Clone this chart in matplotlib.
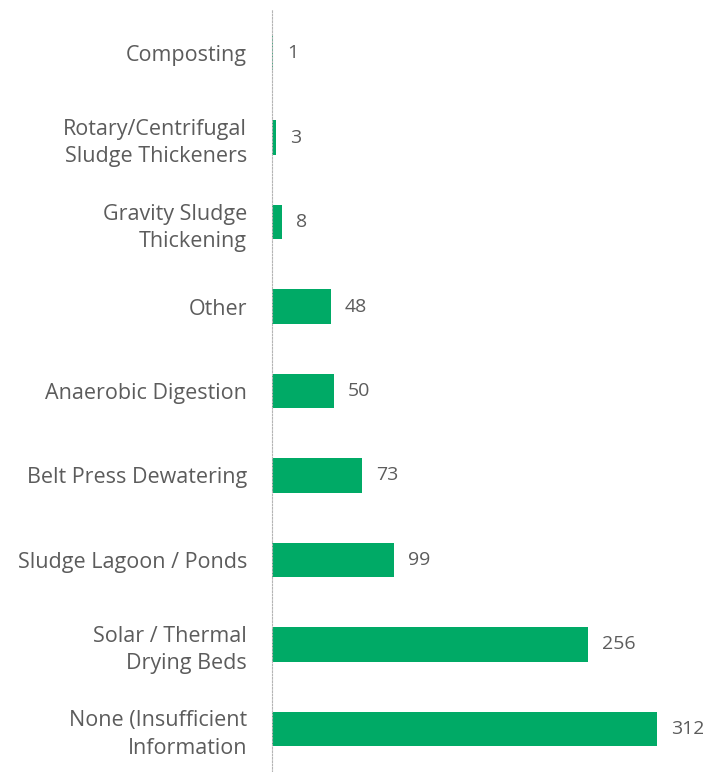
import numpy as np
import matplotlib
matplotlib.use("Agg")
import matplotlib.pyplot as plt

# sludge treatment methods, top to bottom as listed
methods = [
    "Composting",
    "Rotary/Centrifugal\nSludge Thickeners",
    "Gravity Sludge\nThickening",
    "Other",
    "Anaerobic Digestion",
    "Belt Press Dewatering",
    "Sludge Lagoon / Ponds",
    "Solar / Thermal\nDrying Beds",
    "None (Insufficient\nInformation",
]
counts = [1, 3, 8, 48, 50, 73, 99, 256, 312]

bar_color = "#00aa66"
text_color = "#5c5c5c"

plt.rcParams["font.family"] = ["Open Sans", "DejaVu Sans"]

fig = plt.figure(figsize=(7.03, 7.72), dpi=100)
ax = fig.add_axes([272 / 703, 0, 431 / 703, 762 / 772])

y = np.arange(len(methods))[::-1]
bars = ax.barh(y, counts, height=0.41, color=bar_color)

ax.set_xlim(0, 349.3)
ax.set_ylim(-0.51, len(methods) - 0.49)

ax.set_yticks(y)
ax.set_yticklabels(methods, fontsize=15.5, color=text_color, linespacing=1.4,
                   ha="right")
ax.tick_params(axis="y", length=0, pad=18)
ax.set_xticks([])

for s in ["top", "right", "bottom"]:
    ax.spines[s].set_visible(False)
ax.spines["left"].set_color("#b5b5b5")
ax.spines["left"].set_linewidth(0.8)
ax.spines["left"].set_linestyle((0, (1.5, 1.5)))

for rect, val in zip(bars, counts):
    ax.annotate(str(val), (rect.get_width(), rect.get_y() + rect.get_height() / 2),
                xytext=(10, 0), textcoords="offset points",
                va="center", ha="left", fontsize=14, color=text_color)

fig.savefig("out.png", dpi=100)
